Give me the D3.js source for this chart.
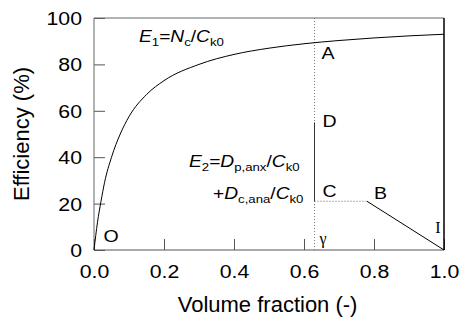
<!DOCTYPE html>
<html>
<head>
<meta charset="utf-8">
<script src="https://cdn.jsdelivr.net/npm/d3@7"></script>
<style>
  body { margin: 0; background: #fff; }
  svg { display: block; font-family: "Liberation Sans", Arial, sans-serif; }
</style>
</head>
<body>
<div id="chart"></div>
<script>
// E1 curve
let volFrac = [0, 0.01, 0.02, 0.03, 0.05, 0.075, 0.1, 0.15, 0.2, 0.3, 0.4, 0.5, 0.6, 0.7, 0.8, 0.9, 1.0];
let e1 = [0, 12, 21, 29, 40, 50, 57.5, 67, 73, 80, 84.3, 87, 88.9, 90.3, 91.4, 92.3, 93];

// E2 pieces
let gamma = 0.63;
let e2Solid = [{x: 0.63, y: 55}, {x: 0.63, y: 21}];
let e2Dotted = [{x: 0.63, y: 21}, {x: 0.78, y: 21}];
let e2Decline = [{x: 0.78, y: 21}, {x: 1.0, y: 0}];

let xTicks = [0, 0.2, 0.4, 0.6, 0.8, 1.0];
let yTicks = [0, 20, 40, 60, 80, 100];

let width = 460, height = 320,
    margin = {top: 18, right: 16, bottom: 70, left: 94},
    w = width - margin.left - margin.right,
    h = height - margin.top - margin.bottom;

let svg = d3.select('#chart').append('svg')
    .attr('width', width)
    .attr('height', height);

let g = svg.append('g')
    .attr('transform', 'translate(' + margin.left + ',' + margin.top + ')');

let x = d3.scaleLinear().domain([0, 1]).range([0, w]);
let y = d3.scaleLinear().domain([0, 100]).range([h, 0]);

let sx = 1.15; // the source lettering is a bit wider than Arial

// axes with inward ticks
let xAxis = d3.axisBottom(x).tickValues(xTicks).tickSize(-11).tickPadding(0)
    .tickFormat(d3.format('.1f'));
let yAxis = d3.axisLeft(y).tickValues(yTicks).tickSize(-11).tickPadding(0);

let gx = g.append('g')
    .attr('transform', 'translate(0,' + h + ')')
    .call(xAxis);
gx.select('.domain').remove();
gx.selectAll('line').attr('stroke', '#555');
gx.selectAll('text')
    .attr('y', 0).attr('dy', 0)
    .attr('font-size', 18.5)
    .attr('font-family', '"Liberation Sans", Arial, sans-serif')
    .attr('fill', '#000')
    .attr('transform', 'translate(0,28) scale(' + sx + ',1)');

let gy = g.append('g').call(yAxis);
gy.select('.domain').remove();
gy.selectAll('line').attr('stroke', '#555');
gy.selectAll('text')
    .attr('x', 0).attr('dy', '0.35em')
    .attr('font-size', 18.5)
    .attr('font-family', '"Liberation Sans", Arial, sans-serif')
    .attr('fill', '#000')
    .attr('transform', 'translate(-12,0) scale(' + sx + ',1)');

// frame
g.append('line').attr('x1', 0).attr('x2', w).attr('y1', 0).attr('y2', 0).attr('stroke', '#666');
g.append('line').attr('x1', 0).attr('x2', 0).attr('y1', 0).attr('y2', h).attr('stroke', '#666');
g.append('line').attr('x1', 0).attr('x2', w).attr('y1', h).attr('y2', h).attr('stroke', '#555');
g.append('line').attr('x1', w).attr('x2', w).attr('y1', 0).attr('y2', h).attr('stroke', '#000').attr('stroke-width', 1.5);

// dotted gamma line
g.append('line')
    .attr('x1', x(gamma)).attr('x2', x(gamma))
    .attr('y1', y(100)).attr('y2', y(0))
    .attr('stroke', '#777')
    .attr('stroke-dasharray', '1,2');

let line = d3.line()
    .x(function (d) { return x(d.x); })
    .y(function (d) { return y(d.y); });

// E1
let e1Data = volFrac.map((v, i) => ({x: v, y: e1[i]}));
g.append('path')
    .datum(e1Data)
    .attr('fill', 'none')
    .attr('stroke', '#000')
    .attr('stroke-width', 1)
    .attr('d', line.curve(d3.curveMonotoneX));

line.curve(d3.curveLinear);

g.append('path').datum(e2Solid)
    .attr('fill', 'none').attr('stroke', '#333').attr('d', line);
g.append('path').datum(e2Dotted)
    .attr('fill', 'none').attr('stroke', '#666').attr('stroke-dasharray', '1,2').attr('d', line);
g.append('path').datum(e2Decline)
    .attr('fill', 'none').attr('stroke', '#000').attr('d', line);

// labels
function label(px, py, str, size, opts) {
    opts = opts || {};
    return g.append('text')
        .attr('transform', 'translate(' + px + ',' + py + ') scale(' + (opts.sx || sx) + ',1)')
        .attr('font-size', size)
        .attr('font-family', opts.family || '"Liberation Sans", Arial, sans-serif')
        .attr('fill', '#000')
        .text(str);
}

label(x(gamma) + 7, y(82.5), 'A', 17);
label(x(gamma) + 8, y(53), 'D', 17);
label(x(gamma) + 8, y(22.8), 'C', 17);
label(x(0.8), y(21.9), 'B', 17);
label(x(0.975), y(7.3), 'I', 16, {family: '"Liberation Serif", "DejaVu Serif", serif', sx: 1});
label(x(gamma) + 5, y(2.8), 'γ', 16, {family: '"Liberation Serif", "DejaVu Serif", serif', sx: 1});
label(x(0.027), y(3.4), 'O', 17);

// formulas: parts = [text, italic, sub]
function formula(px, py, parts) {
    let t = g.append('text')
        .attr('transform', 'translate(' + px + ',' + py + ') scale(1.2,1)')
        .attr('font-size', 16)
        .attr('fill', '#000');
    let shifted = false;
    parts.forEach(p => {
        let s = t.append('tspan').text(p[0]);
        if (p[1]) s.attr('font-style', 'italic');
        if (p[2]) {
            s.attr('font-size', 11);
            if (!shifted) { s.attr('dy', 4); shifted = true; }
        } else if (shifted) {
            s.attr('dy', -4);
            shifted = false;
        }
    });
    return t;
}

formula(139 - margin.left, 42 - margin.top, [
    ['E', true], ['1', false, true], ['=', false], ['N', true], ['c', false, true],
    ['/', false], ['C', true], ['k0', false, true]
]);
formula(189 - margin.left, 167 - margin.top, [
    ['E', true], ['2', false, true], ['=', false], ['D', true], ['p,anx', false, true],
    ['/', false], ['C', true], ['k0', false, true]
]);
formula(213 - margin.left, 199 - margin.top, [
    ['+', false], ['D', true], ['c,ana', false, true],
    ['/', false], ['C', true], ['k0', false, true]
]);

// axis titles
svg.append('text')
    .attr('x', margin.left + w * 0.496)
    .attr('y', 312)
    .attr('text-anchor', 'middle')
    .attr('font-size', 22)
    .attr('fill', '#000')
    .text('Volume fraction (-)');

svg.append('text')
    .attr('transform', 'translate(29,134) rotate(-90)')
    .attr('text-anchor', 'middle')
    .attr('font-size', 22)
    .attr('fill', '#000')
    .text('Efficiency (%)');
</script>
</body>
</html>
